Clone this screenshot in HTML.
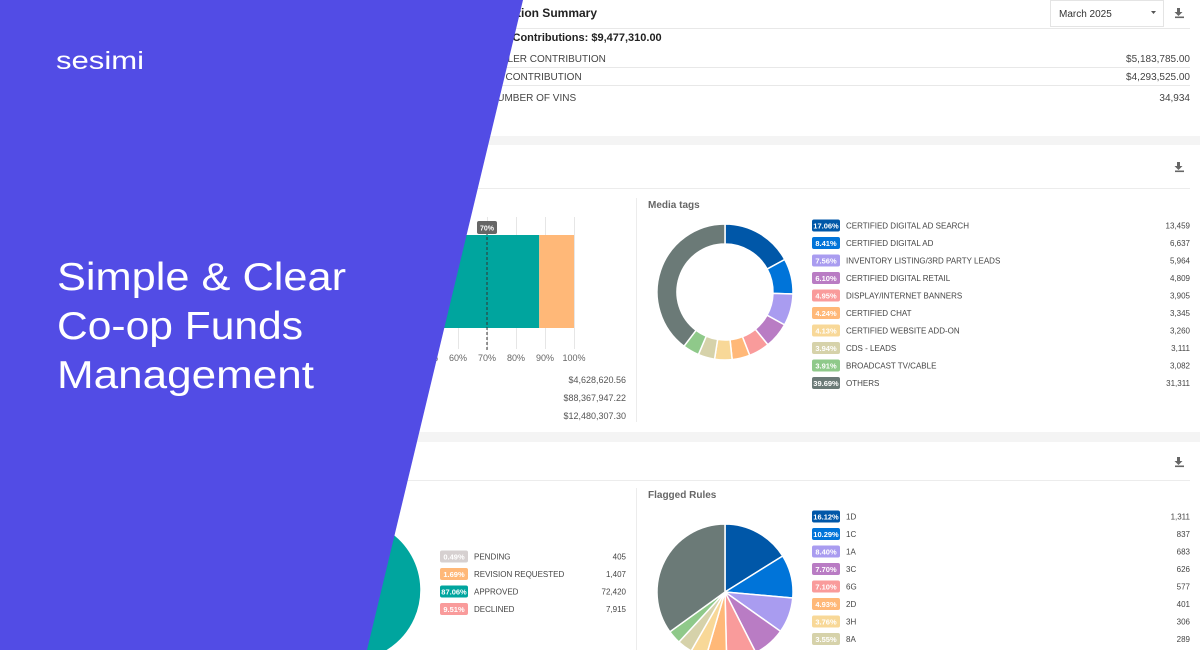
<!DOCTYPE html>
<html><head><meta charset="utf-8">
<style>
html,body{margin:0;padding:0;width:1200px;height:650px;overflow:hidden;background:#fff;font-family:"Liberation Sans",sans-serif}
svg text{font-family:"Liberation Sans",sans-serif}
</style></head>
<body>
<svg id="s" width="1200" height="650" viewBox="0 0 1200 650" xmlns="http://www.w3.org/2000/svg">
<rect x="0" y="0" width="1200" height="650" fill="#fff"/>
<rect x="0" y="136" width="1200" height="9" fill="#f4f4f4"/>
<rect x="0" y="432" width="1200" height="10" fill="#f4f4f4"/>
<text x="467" y="17" font-size="12" font-weight="bold" fill="#222">Contribution Summary</text>
<rect x="1050.5" y="0.5" width="113" height="26" fill="#fff" stroke="#e4e4e4"/>
<text x="1059" y="17" font-size="10" fill="#333">March 2025</text>
<path d="M1151 11 l5 0 l-2.5 3z" fill="#555"/>
<g fill="#666"><rect x="1177" y="8" width="3" height="5"/><path d="M1174.5 12 h8 l-4 4z"/><rect x="1175" y="16.5" width="9" height="1.6"/></g>
<line x1="490" y1="28.5" x2="1190" y2="28.5" stroke="#e8e8e8"/>
<text x="484" y="41" font-size="11" font-weight="bold" fill="#222">Total Contributions: $9,477,310.00</text>
<text x="487" y="62" font-size="10" fill="#444">DEALER CONTRIBUTION</text>
<text x="1190" y="62" font-size="10" fill="#444" text-anchor="end">$5,183,785.00</text>
<line x1="440" y1="67.5" x2="1190" y2="67.5" stroke="#e8e8e8"/>
<text x="480" y="80" font-size="10" fill="#444">OEM CONTRIBUTION</text>
<text x="1190" y="80" font-size="10" fill="#444" text-anchor="end">$4,293,525.00</text>
<line x1="440" y1="85.5" x2="1190" y2="85.5" stroke="#e8e8e8"/>
<text x="490" y="101" font-size="10" fill="#444">NUMBER OF VINS</text>
<text x="1190" y="101" font-size="10" fill="#444" text-anchor="end">34,934</text>
<g fill="#666"><rect x="1177" y="162" width="3" height="5"/><path d="M1174.5 166 h8 l-4 4z"/><rect x="1175" y="170.5" width="9" height="1.6"/></g>
<line x1="300" y1="188.5" x2="1190" y2="188.5" stroke="#ececec"/>
<line x1="636.5" y1="198" x2="636.5" y2="422" stroke="#ececec"/>
<g id="bar"></g>
<text x="626" y="383" font-size="9" fill="#555" text-anchor="end">$4,628,620.56</text>
<text x="626" y="401" font-size="9" fill="#555" text-anchor="end">$88,367,947.22</text>
<text x="626" y="419" font-size="9" fill="#555" text-anchor="end">$12,480,307.30</text>
<text x="648" y="208" font-size="10" font-weight="bold" fill="#666">Media tags</text>
<g id="media"></g>
<g fill="#666"><rect x="1177" y="457" width="3" height="5"/><path d="M1174.5 461 h8 l-4 4z"/><rect x="1175" y="465.5" width="9" height="1.6"/></g>
<line x1="300" y1="480.5" x2="1190" y2="480.5" stroke="#ececec"/>
<line x1="636.5" y1="488" x2="636.5" y2="650" stroke="#ececec"/>
<text x="648" y="498" font-size="10" font-weight="bold" fill="#666">Flagged Rules</text>
<g id="status"></g>
<g id="flag"></g>
<polygon points="0,0 523,0 367,650 0,650" fill="#524ce5"/>
<text x="56" y="69" font-size="25" fill="#fff" textLength="88" lengthAdjust="spacingAndGlyphs">sesimi</text>
<text x="57" y="290" font-size="39" fill="#fff" textLength="289" lengthAdjust="spacingAndGlyphs">Simple &amp; Clear</text>
<text x="57" y="339" font-size="39" fill="#fff" textLength="246" lengthAdjust="spacingAndGlyphs">Co-op Funds</text>
<text x="57" y="388" font-size="39" fill="#fff" textLength="257" lengthAdjust="spacingAndGlyphs">Management</text>
</svg>
<script>
const NS="http://www.w3.org/2000/svg";
const barCategories=["Approved","Remaining"];
const barValues=[88,12];
const barTicks=[0,10,20,30,40,50,60,70,80,90,100];
const barTarget=70;
const mediaLabels=["CERTIFIED DIGITAL AD SEARCH","CERTIFIED DIGITAL AD","INVENTORY LISTING/3RD PARTY LEADS","CERTIFIED DIGITAL RETAIL","DISPLAY/INTERNET BANNERS","CERTIFIED CHAT","CERTIFIED WEBSITE ADD-ON","CDS - LEADS","BROADCAST TV/CABLE","OTHERS"];
const mediaPct=[17.06,8.41,7.56,6.10,4.95,4.24,4.13,3.94,3.91,39.69];
const mediaCounts=["13,459","6,637","5,964","4,809","3,905","3,345","3,260","3,111","3,082","31,311"];
const flagLabels=["1D","1C","1A","3C","6G","2D","3H","8A","2A","OTHERS"];
const flagPct=[16.12,10.29,8.40,7.70,7.10,4.93,3.76,3.55,3.20,34.95];
const flagCounts=["1,311","837","683","626","577","401","306","289","260","2,843"];
const statusLabels=["PENDING","REVISION REQUESTED","APPROVED","DECLINED"];
const statusPct=[0.49,1.69,87.06,9.51];
const statusCounts=["405","1,407","72,420","7,915"];
const palette=["#0057a8","#0074d9","#a99cf0","#b97cc4","#f99b9b","#ffb878","#f8d898","#d6d2aa","#8fc98a","#6b7a77"];
const statusColors=["#d6d0d0","#ffb878","#00a59e","#f99b9b"];
function mk(t,a,p){const e=document.createElementNS(NS,t);for(const k in a)e.setAttribute(k,a[k]);p.appendChild(e);return e;}
const bx=v=>284+v*2.9;
const bg=document.getElementById('bar');
barTicks.forEach(t=>{
  const l=mk('line',{x1:bx(t)+.5,x2:bx(t)+.5,y1:217,y2:349,stroke:'#e6e6e6'},bg);
  
  
  const tx=mk('text',{x:bx(t),y:361,'font-size':9,fill:'#666','text-anchor':'middle'},bg);tx.textContent=t+'%';
  
  
});
let acc=0;const barCols=["#00a59e","#ffb878"];
barValues.forEach((v,i)=>{
  const r=mk('rect',{x:bx(acc),y:235,width:bx(acc+v)-bx(acc),height:93,fill:barCols[i]},bg);
  
  
  acc+=v;
});
const tl=mk('line',{x1:bx(barTarget),x2:bx(barTarget),y1:222,y2:350,stroke:'#333','stroke-dasharray':'3,2'},bg);


const tb=mk('rect',{x:bx(barTarget)-10,y:221,width:20,height:13,rx:2,fill:'#666'},bg);


const tt=mk('text',{x:bx(barTarget),y:230.5,'font-size':7,'font-weight':'bold',fill:'#fff','text-anchor':'middle'},bg);tt.textContent=barTarget+'%';
function pie(g,cx,cy,R,r0,vals,cols,name){
  const tot=vals.reduce((a,b)=>a+b,0);let a=-Math.PI/2;
  vals.forEach((v,i)=>{
    const b=a+v/tot*2*Math.PI,la=(b-a)>Math.PI?1:0;
    const p=(rr,t)=>[cx+rr*Math.cos(t),cy+rr*Math.sin(t)];
    const [x1,y1]=p(R,a),[x2,y2]=p(R,b);
    let d;
    if(r0>0){const [x3,y3]=p(r0,b),[x4,y4]=p(r0,a);d=`M${x1} ${y1}A${R} ${R} 0 ${la} 1 ${x2} ${y2}L${x3} ${y3}A${r0} ${r0} 0 ${la} 0 ${x4} ${y4}Z`;}
    else d=`M${cx} ${cy}L${x1} ${y1}A${R} ${R} 0 ${la} 1 ${x2} ${y2}Z`;
    const e=mk('path',{d:d,fill:cols[i],stroke:'#fff','stroke-width':1.5},g);
    
    
    a=b;
  });
}
function legend(g,x0,x1,y0,step,labels,pct,counts,cols,name){
  labels.forEach((l,i)=>{
    const y=y0+i*step;
    const b=mk('rect',{x:x0,y:y-6,width:28,height:12,rx:2,fill:cols[i]},g);
    
    
    const bt=mk('text',{x:x0+14,y:y+3,'font-size':7.5,'font-weight':'bold',fill:'#fff','text-anchor':'middle'},g);bt.textContent=pct[i].toFixed(2)+'%';
    const t=mk('text',{x:x0+34,y:y+3,'font-size':8,fill:'#444'},g);t.textContent=l;
    
    
    const c=mk('text',{x:x1,y:y+3,'font-size':8,fill:'#444','text-anchor':'end'},g);c.textContent=counts[i];
    
    
  });
}
const mg=document.getElementById('media');
pie(mg,725,292,68,48,mediaPct,palette,'media-tags');
legend(mg,812,1190,225.5,17.5,mediaLabels,mediaPct,mediaCounts,palette,'media-tags');
const fg=document.getElementById('flag');
pie(fg,725,592,68,0,flagPct,palette,'flagged-rules');
legend(fg,812,1190,516.5,17.5,flagLabels,flagPct,flagCounts,palette,'flagged-rules');
const sg=document.getElementById('status');
pie(sg,350,590,71,0,statusPct,statusColors,'status');
legend(sg,440,626,556.5,17.5,statusLabels,statusPct,statusCounts,statusColors,'status');
</script>
</body></html>
